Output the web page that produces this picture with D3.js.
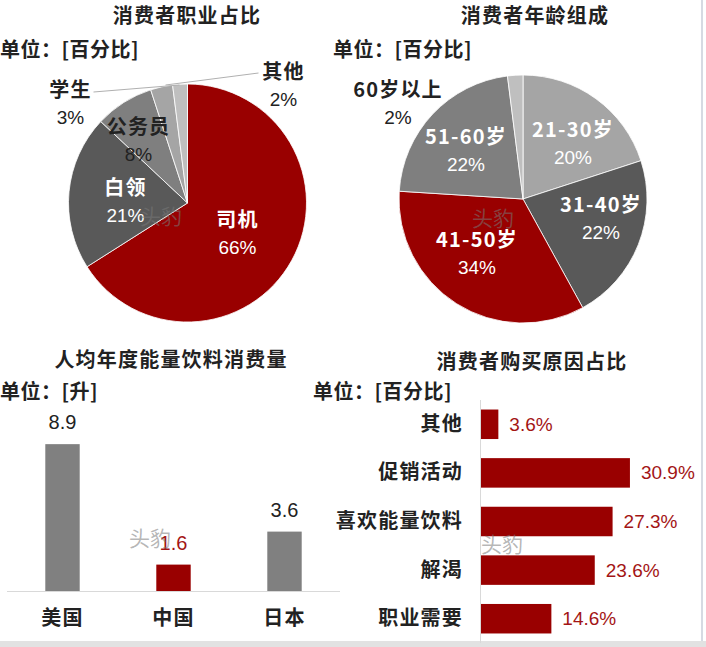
<!DOCTYPE html>
<html><head><meta charset="utf-8">
<script src="https://cdn.jsdelivr.net/npm/d3@7/dist/d3.min.js"></script>
<style>
body{margin:0;background:#fff;}
svg{display:block;font-family:"Liberation Sans","Noto Sans CJK SC",sans-serif;}
.cjk{font-family:"Noto Sans CJK SC",sans-serif;font-weight:600;letter-spacing:1.2px;}
</style></head><body>
<svg id="c" width="706" height="647"></svg>
<script>
// ---- Data ----
const occCats = ["司机","白领","公务员","学生","其他"];
const occVals = [66,21,8,3,2];
const ageCats = ["21-30岁","31-40岁","41-50岁","51-60岁","60岁以上"];
const ageVals = [20,22,34,22,2];
const consCats = ["美国","中国","日本"];
const consVals = [8.9,1.6,3.6];
const reasonCats = ["其他","促销活动","喜欢能量饮料","解渴","职业需要"];
const reasonVals = [3.6,30.9,27.3,23.6,14.6];

const RED="#990000", TXT="#222";
const svg=d3.select("#c");

// frame bits
svg.append("rect").attr("x",0).attr("y",641).attr("width",706).attr("height",6).attr("fill","#e2e2e2");
svg.append("line").attr("x1",702).attr("x2",702).attr("y1",0).attr("y2",641).attr("stroke","#c8ced8").attr("stroke-width",1.5);

function title(x,y,t){svg.append("text").attr("class","cjk").attr("x",x).attr("y",y).attr("text-anchor","middle").attr("dominant-baseline","central").attr("font-size",20).attr("fill",TXT).text(t);}
function unit(x,y,t){svg.append("text").attr("class","cjk").attr("x",x).attr("y",y).attr("dominant-baseline","central").attr("font-size",20).attr("fill",TXT).style("letter-spacing","0.5px").text(t);}
function wm(x,y){svg.append("text").attr("x",x).attr("y",y).attr("text-anchor","middle").attr("dominant-baseline","central").attr("font-family","Noto Sans CJK SC").attr("font-size",21).attr("fill","rgba(120,120,120,0.55)").text("头豹");}

// ---- Pie helper ----
function pieChart(cx,cy,r,cats,vals,colors,labels,labelColors,leaders){
  const g=svg.append("g").attr("transform",`translate(${cx},${cy})`);
  const arcs=d3.pie().sort(null).value(d=>d)(vals);
  const arc=d3.arc().innerRadius(0).outerRadius(r);
  g.selectAll("path").data(arcs).join("path").attr("d",arc).attr("fill",(d,i)=>colors[i]).attr("stroke","#fff").attr("stroke-width",0.8);
  arcs.forEach((a,i)=>{
    if(leaders && leaders[i]){
      const [sx,sy,ex]=leaders[i];
      g.append("line").attr("x1",sx).attr("y1",sy).attr("x2",ex).attr("y2",-r+1).attr("stroke","#b0b0b0").attr("stroke-width",1);
    }
  });
  arcs.forEach((a,i)=>{
    const [lx,ly]=labels[i];
    const t=g.append("text").attr("text-anchor","middle").attr("fill",labelColors[i]).attr("font-size",20);
    t.append("tspan").attr("class","cjk").attr("x",lx).attr("y",ly).attr("dominant-baseline","central").text(cats[i]);
    t.append("tspan").attr("x",lx).attr("y",ly+29).attr("dominant-baseline","central").attr("font-size",19).text(vals[i]+"%");
  });
  return g;
}

// Panel 1
title(187,14,"消费者职业占比");
unit(0,48,"单位：[百分比]");
pieChart(187.5,203,119,occCats,occVals,
  [RED,"#595959","#7f7f7f","#a5a5a5","#bfbfbf"],
  [[50,15],[-62,-17],[-49,-78],[-117,-115],[96,-133]],
  ["#fff","#fff",TXT,TXT,TXT],
  [null,null,null,[-94,-111,-8],[71,-130,-22]]);
wm(161,215);

// Panel 2
title(535,14,"消费者年龄组成");
unit(333,48,"单位：[百分比]");
pieChart(523,199,124,ageCats,ageVals,
  ["#a5a5a5","#595959",RED,"#7f7f7f","#bfbfbf"],
  [[50,-71],[78,4],[-46,39],[-57,-64],[-125,-111]],
  ["#fff","#fff","#fff","#fff",TXT],null);
wm(493,217);

// Panel 3: vertical bars
title(171,358,"人均年度能量饮料消费量");
unit(0,390,"单位：[升]");
{
  const x=d3.scaleBand().domain(consCats).range([7,340]).paddingInner(0.69).paddingOuter(0.345);
  const y=d3.scaleLinear().domain([0,10]).range([591,426]);
  const g=svg.append("g");
  g.selectAll("rect").data(consVals).join("rect")
    .attr("x",(d,i)=>x(consCats[i])).attr("width",x.bandwidth())
    .attr("y",d=>y(d)).attr("height",d=>y(0)-y(d))
    .attr("fill",(d,i)=>consCats[i]==="中国"?RED:"#808080");
  const ax=g.append("g").attr("transform",`translate(0,${y(0)})`).call(d3.axisBottom(x).tickSize(0).tickPadding(27));
  ax.select(".domain").attr("stroke","#d9d9d9").attr("d","M7,0.5H340");
  ax.selectAll("text").attr("class","cjk").attr("font-size",20).attr("fill",TXT).attr("dy","0.35em").attr("y",27);
  g.selectAll(".v").data(consVals).join("text").attr("class","v")
    .attr("x",(d,i)=>x(consCats[i])+x.bandwidth()/2).attr("y",d=>y(d)-22)
    .attr("text-anchor","middle").attr("dominant-baseline","central").attr("font-size",20)
    .attr("fill",(d,i)=>consCats[i]==="中国"?"#a31515":TXT).text(d=>d);
  wm(150,537);
}

// Panel 4: horizontal bars
title(532,360,"消费者购买原因占比");
unit(313,390,"单位：[百分比]");
{
  const y=d3.scaleBand().domain(reasonCats).range([400,643]).paddingInner(0.393).paddingOuter(0.196);
  const x=d3.scaleLinear().domain([0,35]).range([481,481+35*4.82]);
  const g=svg.append("g");
  g.selectAll("rect").data(reasonVals).join("rect")
    .attr("x",x(0)).attr("y",(d,i)=>y(reasonCats[i])).attr("height",y.bandwidth())
    .attr("width",d=>x(d)-x(0)).attr("fill",RED);
  const ay=g.append("g").attr("transform","translate(480,0)").call(d3.axisLeft(y).tickSize(0).tickPadding(17));
  ay.select(".domain").attr("stroke","#d9d9d9").attr("d","M0.5,400V643");
  ay.selectAll("text").attr("class","cjk").attr("font-size",20).attr("fill",TXT).style("letter-spacing","1.2px");
  g.selectAll(".v").data(reasonVals).join("text").attr("class","v")
    .attr("x",d=>x(d)+11).attr("y",(d,i)=>y(reasonCats[i])+y.bandwidth()/2)
    .attr("dominant-baseline","central").attr("font-size",19).attr("fill","#a31515").text(d=>d.toFixed(1)+"%");
  wm(502,543);
}
</script></body></html>
